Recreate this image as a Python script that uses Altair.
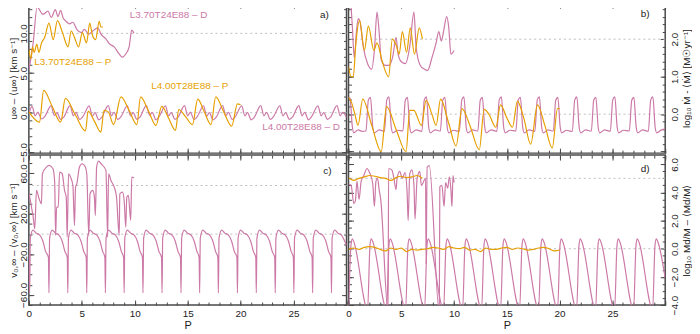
import altair as alt
import pandas as pd

PINK = "#CC79A7"
ORANGE = "#E69F00"
FRAME = "#4a4a4a"
FONT = "Liberation Sans"
TXT = "#222222"

# ---------------- x axis ticks ----------------
X_MAJOR = [0, 5, 10, 15, 20, 25, 30]
X_MINOR = [0, 1, 2, 3, 4, 5, 6, 7, 8, 9, 10, 11, 12, 13, 14, 15, 16, 17, 18, 19, 20,
           21, 22, 23, 24, 25, 26, 27, 28, 29, 30]
X_LABELS = [0, 5, 10, 15, 20, 25]

# ---------------- panel a : u_inf ----------------
A_UP_D_P = [0.0, 0.4, 0.78, 1.34, 1.81, 2.12, 2.5, 2.75, 3.0, 3.22, 3.53, 3.84, 4.15, 4.53, 4.94,
            5.25, 5.65, 6.03, 6.5, 6.81, 7.28, 7.59, 8.06, 8.53, 8.84, 9.15, 9.47, 9.72, 9.93]
A_UP_D_V = [5.35, 8.7, 13.3, 12.4, 12.8, 12.0, 13.0, 12.1, 12.9, 12.0, 11.5, 11.2, 11.4, 10.5, 10.1,
            10.5, 9.9, 10.3, 10.7, 9.9, 9.3, 8.7, 8.3, 7.4, 7.0, 7.4, 8.3, 10.4, 10.0]
A_UP_P_P = [0.0, 0.2, 0.35, 0.5, 0.75, 0.95, 1.2, 1.5, 1.9, 2.3, 2.7, 3.2, 3.7, 4.0, 4.3, 4.7,
            5.05, 5.45, 5.75, 6.0, 6.3, 6.65, 6.8, 7.0]
A_UP_P_V = [8.0, 6.8, 8.3, 7.6, 8.6, 7.6, 8.8, 9.5, 11.3, 9.2, 11.6, 10.0, 8.3, 10.3, 9.5, 8.3,
            10.1, 8.8, 11.3, 9.8, 9.2, 11.5, 10.8, 10.8]
A_LO_P_P = [0.0, 0.4, 1.0, 1.4, 2.2, 3.0, 3.45, 4.4, 5.35, 5.6, 6.2, 6.8, 7.1, 7.5, 8.0, 8.7, 9.5,
            10.2, 10.55, 11.3, 12.0, 12.55, 13.2, 13.85, 14.15, 14.8, 15.45, 15.95, 16.6, 17.2,
            17.65, 18.4, 19.15, 19.7, 20.0]
A_LO_P_V = [0.1, -0.6, -1.2, 2.8, 0.8, -1.2, 1.8, -0.3, -2.3, 0.2, -1.1, -2.45, 0.3, 0.1, -1.5, 2.0,
            0.2, -1.5, 2.0, 0.2, -1.6, 0.8, -0.7, -2.25, 0.4, -0.5, -1.5, 1.7, 0.0, -1.5, 2.0, 0.1,
            -1.7, 1.1, 1.0]
A_LO_D_P = [0.0, 0.3, 0.6, 0.85, 1.2, 1.5, 2.1, 2.4, 2.65, 3.0, 3.3, 3.9, 4.2, 4.45, 4.8, 5.1,
            5.7, 6.0, 6.25, 6.6, 6.9, 7.5, 7.8, 8.05, 8.4, 8.7, 9.3, 9.6, 9.85, 10.2, 10.5,
            11.1, 11.4, 11.65, 12.0, 12.3, 12.9, 13.2, 13.45, 13.8, 14.1, 14.7, 15.0, 15.25, 15.6,
            15.9, 16.5, 16.8, 17.05, 17.4, 17.7, 18.3, 18.6, 18.85, 19.2, 19.5, 20.1, 20.4, 20.65,
            21.0, 21.3, 21.9, 22.2, 22.45, 22.8, 23.1, 23.7, 24.0, 24.25, 24.6, 24.9, 25.5, 25.8,
            26.05, 26.4, 26.7, 27.3, 27.6, 27.85, 28.2, 28.5, 29.1, 29.4, 29.65, 30.0]
A_LO_D_V = [-0.2, 0.8, -0.4, 0.05, -0.8, -0.5, 0.85, -0.35, 0.0, -0.85, -0.55, 0.9, -0.4, 0.05,
            -0.85, -0.5, 0.85, -0.45, 0.0, -0.9, -0.55, 0.9, -0.4, 0.05, -0.85, -0.5, 0.85, -0.4,
            0.0, -0.85, -0.55, 0.9, -0.35, 0.05, -0.9, -0.5, 0.85, -0.4, 0.0, -0.85, -0.55, 0.9,
            -0.4, 0.05, -0.85, -0.5, 0.85, -0.45, 0.0, -0.9, -0.55, 0.9, -0.4, 0.05, -0.85, -0.5,
            0.85, -0.4, 0.0, -0.9, -0.55, 0.9, -0.4, 0.05, -0.85, -0.5, 0.85, -0.4, 0.0, -0.85,
            -0.55, 0.9, -0.4, 0.05, -0.9, -0.5, 0.85, -0.4, 0.0, -0.85, -0.55, 0.9, -0.4, 0.05, -0.6]

# ---------------- panel b : log Mdot ----------------
B_UP_D_P = [0.0, 0.15, 0.35, 0.55, 0.75, 0.92, 1.1, 1.4, 1.8, 2.2, 2.45, 2.7, 2.9, 3.1, 3.5, 3.8,
            4.2, 4.5, 4.7, 5.0, 5.4, 5.8, 6.2, 6.4, 6.8, 7.2, 7.5, 7.9, 8.3, 8.55, 8.8, 9.0, 9.3,
            9.5, 9.7, 10.0]
B_UP_D_V = [3.4, 3.2, 2.4, 1.5, 2.2, 2.55, 2.45, 1.8, 1.35, 1.2, 1.7, 2.72, 2.2, 1.45, 1.3, 1.3,
            1.55, 2.05, 1.6, 1.4, 1.35, 1.8, 2.72, 1.8, 1.3, 1.2, 1.17, 1.5, 1.9, 2.2, 1.95, 2.2,
            2.6, 2.3, 1.6, 1.7]
B_UP_P_P = [0.0, 0.25, 0.45, 0.7, 1.05, 1.5, 1.88, 2.4, 2.7, 3.2, 3.8, 4.15, 4.5, 4.8, 5.1, 5.5,
            5.85, 6.25, 6.7, 7.0]
B_UP_P_V = [1.27, 1.0, 1.0, 1.9, 2.5, 1.7, 2.35, 1.7, 1.9, 1.4, 1.0, 2.0, 1.85, 1.6, 2.2, 1.65,
            2.3, 1.6, 2.3, 2.0]
B_LO_P_P = [0.0, 0.3, 0.6, 0.9, 1.35, 2.2, 3.1, 3.6, 4.5, 5.45, 5.8, 6.2, 6.9, 7.35, 7.9, 8.3,
            8.72, 9.5, 10.19, 10.75, 11.5, 12.39, 12.85, 13.3, 13.96, 14.4, 15.0, 15.53, 16.0,
            16.6, 17.26, 17.9, 18.6, 19.3, 19.8, 20.0]
B_LO_P_V = [0.45, 0.3, 0.0, -0.3, 0.4, -0.3, -1.0, 0.2, -0.4, -1.0, 0.1, 0.1, -0.3, 0.37, 0.0,
            -0.3, 0.4, -0.25, -0.85, 0.15, -0.3, -0.95, 0.13, 0.0, -0.35, 0.25, -0.1, -0.35, 0.35,
            -0.1, -0.8, 0.25, -0.3, -0.9, 0.15, 0.15]
B_LO_D_P = [0.0, 0.15, 0.35, 0.5, 0.9, 1.3,
            1.65, 1.88, 2.08, 2.3, 2.45, 2.9,
            3.4, 3.63, 3.83, 4.05, 4.2, 4.65,
            5.15, 5.38, 5.58, 5.8, 5.95, 6.4,
            6.95, 7.18, 7.38, 7.6, 7.75, 8.2,
            8.7, 8.93, 9.13, 9.35, 9.5, 9.95,
            10.5, 10.73, 10.93, 11.15, 11.3, 11.75,
            12.25, 12.48, 12.68, 12.9, 13.05, 13.5,
            14.05, 14.28, 14.48, 14.7, 14.85, 15.3,
            15.85, 16.08, 16.28, 16.5, 16.65, 17.1,
            17.65, 17.88, 18.08, 18.3, 18.45, 18.9,
            19.4, 19.63, 19.83, 20.05, 20.2, 20.65,
            21.2, 21.43, 21.63, 21.85, 22.0, 22.45,
            23.0, 23.23, 23.43, 23.65, 23.8, 24.25,
            24.8, 25.03, 25.23, 25.45, 25.6, 26.05,
            26.6, 26.83, 27.03, 27.25, 27.4, 27.85,
            28.4, 28.63, 28.83, 29.05, 29.2, 29.65, 30.0]
B_LO_D_V = [0.45, 0.42, -0.3, -0.5, -0.42, -0.46,
            -0.45, 0.38, 0.45, -0.35, -0.5, -0.42,
            -0.46, 0.38, 0.46, -0.35, -0.5, -0.43,
            -0.45, 0.37, 0.45, -0.34, -0.5, -0.42,
            -0.46, 0.38, 0.46, -0.35, -0.5, -0.42,
            -0.45, 0.38, 0.45, -0.35, -0.5, -0.43,
            -0.46, 0.38, 0.46, -0.35, -0.5, -0.42,
            -0.45, 0.37, 0.45, -0.34, -0.5, -0.42,
            -0.46, 0.38, 0.46, -0.35, -0.5, -0.43,
            -0.45, 0.38, 0.45, -0.35, -0.5, -0.42,
            -0.46, 0.38, 0.46, -0.35, -0.5, -0.42,
            -0.45, 0.37, 0.45, -0.34, -0.5, -0.43,
            -0.46, 0.38, 0.46, -0.35, -0.5, -0.42,
            -0.45, 0.38, 0.45, -0.35, -0.5, -0.42,
            -0.46, 0.38, 0.46, -0.35, -0.5, -0.43,
            -0.45, 0.37, 0.45, -0.34, -0.5, -0.42,
            -0.46, 0.38, 0.46, -0.35, -0.5, -0.42, -0.4]

# ---------------- panel c : v_0,inf ----------------
C_UP_D_P = [0.03, 0.25, 0.41, 0.56, 0.72, 0.97, 1.19, 1.28, 1.66, 1.91, 2.28, 2.44, 2.53, 2.62,
            2.78, 2.9, 3.15, 3.37, 3.53, 3.62, 3.75, 3.94, 4.16, 4.31, 4.41, 4.53, 4.78, 5.03,
            5.34, 5.47, 5.66, 5.78, 6.03, 6.19, 6.28, 6.4, 6.59, 6.81, 7.28, 7.44, 7.53, 7.75,
            8.06, 8.28, 8.53, 8.59, 8.84, 9.0, 9.15, 9.25, 9.4, 9.62, 9.72, 9.93]
C_UP_D_V = [39.8, 26.7, 16.8, 5.3, 43.1, 34.9, 29.9, 59.6, 66.2, 67.8, 64.5, 51.3, -1.3, 26.7,
            26.7, 61.2, 59.6, 43.1, 36.5, -2.9, 59.6, 56.3, 48.0, 8.5, 46.4, 49.7, 66.2, 69.5,
            66.2, 59.6, -1.3, 39.8, 43.1, 36.5, 18.4, 66.2, 72.1, 69.5, 62.9, -2.9, 59.6, 53.0,
            46.4, 36.5, -1.3, 39.8, 41.4, 33.2, 6.9, 36.5, 38.2, 13.5, 56.3, 55.6]
C_LO_D_P = [0.0, 0.08, 0.14, 0.38, 0.68, 1.03, 1.33, 1.58,
            1.85, 1.9, 1.96, 2.2, 2.5, 2.85, 3.15, 3.4,
            3.63, 3.68, 3.74, 3.98, 4.28, 4.63, 4.93, 5.18,
            5.42, 5.47, 5.53, 5.77, 6.07, 6.42, 6.72, 6.97,
            7.18, 7.23, 7.29, 7.53, 7.83, 8.18, 8.48, 8.73,
            8.95, 9.0, 9.06, 9.3, 9.6, 9.95, 10.25, 10.5,
            10.73, 10.78, 10.84, 11.08, 11.38, 11.73, 12.03, 12.28,
            12.53, 12.58, 12.64, 12.88, 13.18, 13.53, 13.83, 14.08,
            14.32, 14.37, 14.43, 14.67, 14.97, 15.32, 15.62, 15.87,
            16.08, 16.13, 16.19, 16.43, 16.73, 17.08, 17.38, 17.63,
            17.85, 17.9, 17.96, 18.2, 18.5, 18.85, 19.15, 19.4,
            19.65, 19.7, 19.76, 20.0, 20.3, 20.65, 20.95, 21.2,
            21.43, 21.48, 21.54, 21.78, 22.08, 22.43, 22.73, 22.98,
            23.22, 23.27, 23.33, 23.57, 23.87, 24.22, 24.52, 24.77,
            24.98, 25.03, 25.09, 25.33, 25.63, 25.98, 26.28, 26.53,
            26.75, 26.8, 26.86, 27.1, 27.4, 27.75, 28.05, 28.3,
            28.53, 28.58, 28.64, 28.88, 29.18, 29.53, 29.83, 30.0]
C_LO_D_V = [-20, -58, -4, 4, 1, -1, -7, -17,
            -23, -58, -4, 4, 1, -1, -7, -17,
            -23, -58, -4, 4, 1, -1, -7, -17,
            -23, -58, -4, 4, 1, -1, -7, -17,
            -23, -58, -4, 4, 1, -1, -7, -17,
            -23, -58, -4, 4, 1, -1, -7, -17,
            -23, -58, -4, 4, 1, -1, -7, -17,
            -23, -58, -4, 4, 1, -1, -7, -17,
            -23, -58, -4, 4, 1, -1, -7, -17,
            -23, -58, -4, 4, 1, -1, -7, -17,
            -23, -58, -4, 4, 1, -1, -7, -17,
            -23, -58, -4, 4, 1, -1, -7, -17,
            -23, -58, -4, 4, 1, -1, -7, -17,
            -23, -58, -4, 4, 1, -1, -7, -17,
            -23, -58, -4, 4, 1, -1, -7, -17,
            -23, -58, -4, 4, 1, -1, -7, -17,
            -23, -58, -4, 4, 1, -1, -7, -11]

# ---------------- panel d : log Md/M ----------------
D_UP_D_P = [0.0, 0.25, 0.5, 0.65, 0.8, 1.0, 1.2, 1.45, 1.75, 2.0, 2.3, 2.45, 2.6, 2.75, 2.9, 3.05,
            3.75, 3.8, 4.1, 4.3, 4.5, 4.6, 4.85, 5.1, 5.35, 5.55, 5.65, 5.8, 6.0, 6.2, 6.3, 6.5,
            6.75, 6.9, 7.3, 7.35, 7.45, 7.65, 8.6, 8.65, 8.85, 9.05, 9.2, 9.4, 9.55, 9.7, 9.8,
            9.9, 10.0]
D_UP_D_V = [4.6, 4.5, 3.2, 3.4, 4.8, 3.5, 4.8, 5.2, 5.7, 5.4, 4.6, 3.0, 4.8, 5.0, 4.2, 3.5,
            -4.5, 5.7, 5.6, 5.0, 4.2, 5.0, 5.5, 5.0, 5.4, 4.0, 2.0, 5.3, 5.6, 4.5, 2.1, 5.0,
            5.5, 4.5, 5.0, -1.1, 5.8, 5.9, -4.5, 4.4, 4.5, 3.0, 4.7, 4.3, 5.1, 4.2, 3.0, 5.2, 4.7]
D_UP_P_P = [0.0, 0.5, 1.0, 1.5, 2.0, 2.5, 3.0, 3.5, 4.0, 4.5, 5.0, 5.5, 6.0, 6.5, 7.0]
D_UP_P_V = [5.05, 4.85, 5.0, 5.1, 5.2, 5.15, 5.05, 5.0, 4.85, 5.05, 5.15, 5.05, 5.1, 5.2, 5.0]
D_LO_P_P = [0.0, 0.5, 1.0, 1.5, 2.0, 2.5, 3.0, 3.5, 4.0, 4.5, 5.0, 5.5, 6.0, 6.5, 7.0, 7.5, 8.0,
            8.5, 9.0, 9.5, 10.0, 10.5, 11.0, 11.5, 12.0, 12.5, 13.0, 13.5, 14.0, 14.5, 15.0, 15.5,
            16.0, 16.5, 17.0, 17.5, 18.0, 18.5, 19.0, 19.5, 20.0]
D_LO_P_V = [-0.05, 0.05, -0.05, 0.1, 0.15, 0.1, -0.05, -0.15, 0.05, -0.05, 0.05, -0.2, -0.05,
            -0.1, -0.05, 0.0, 0.1, 0.05, -0.05, 0.15, 0.05, 0.0, 0.1, -0.1, -0.05, -0.2, 0.05,
            -0.05, -0.05, 0.05, 0.1, -0.05, 0.05, 0.0, -0.1, -0.05, 0.05, 0.1, 0.0, -0.15, -0.1]
D_LO_D_P = [0.01, 0.23, 0.35, 0.5, 1.81, 2.03, 2.15, 2.3, 3.61, 3.83, 3.95, 4.1,
            5.41, 5.63, 5.75, 5.9, 7.21, 7.43, 7.55, 7.7, 9.01, 9.23, 9.35, 9.5,
            10.81, 11.03, 11.15, 11.3, 12.61, 12.83, 12.95, 13.1, 14.41, 14.63, 14.75, 14.9,
            16.21, 16.43, 16.55, 16.7, 18.01, 18.23, 18.35, 18.5, 19.81, 20.03, 20.15, 20.3,
            21.61, 21.83, 21.95, 22.1, 23.41, 23.63, 23.75, 23.9, 25.21, 25.43, 25.55, 25.7,
            27.01, 27.23, 27.35, 27.5, 28.81, 29.03, 29.15, 29.3, 30.0]
D_LO_D_V = [-4.3, 0.2, 0.7, 0.5, -4.3, 0.2, 0.7, 0.5, -4.3, 0.2, 0.7, 0.5,
            -4.3, 0.2, 0.7, 0.5, -4.3, 0.2, 0.7, 0.5, -4.3, 0.2, 0.7, 0.5,
            -4.3, 0.2, 0.7, 0.5, -4.3, 0.2, 0.7, 0.5, -4.3, 0.2, 0.7, 0.5,
            -4.3, 0.2, 0.7, 0.5, -4.3, 0.2, 0.7, 0.5, -4.3, 0.2, 0.7, 0.5,
            -4.3, 0.2, 0.7, 0.5, -4.3, 0.2, 0.7, 0.5, -4.3, 0.2, 0.7, 0.5,
            -4.3, 0.2, 0.7, 0.5, -4.3, 0.2, 0.7, 0.5, -2.1]

# ---------------- annotations ----------------
A_TXT = ["L3.70T24E88 – D", "L3.70T24E88 – P", "L4.00T28E88 – P", "L4.00T28E88 – D", "a)"]
A_TXT_P = [13.2, 4.15, 15.2, 25.7, 27.9]
A_TXT_V = [12.35, 6.35, 3.35, -1.75, 12.3]
A_TXT_C = [PINK, ORANGE, ORANGE, PINK, TXT]

W_L, W_R, H = 320, 319, 151


def make_panel(lines, refs, texts, ydom, ymaj, ymin, ylab_vals, side, ytitle, xlabels, w, h):
    xs = alt.Scale(domain=[0, 30], nice=False, zero=False)
    ys = alt.Scale(domain=ydom, nice=False, zero=False)
    layers = []
    ref_df = pd.DataFrame({"v": refs})
    layers.append(alt.Chart(ref_df).mark_rule(color="#bdbdbd", strokeDash=[2, 3], strokeWidth=1)
                  .encode(y=alt.Y("v:Q", scale=ys, axis=None)))
    for p, v, col in lines:
        df = pd.DataFrame({"P": p, "v": v, "i": list(range(len(p)))})
        layers.append(alt.Chart(df).mark_line(color=col, strokeWidth=1.2, clip=True,
                                              interpolate="monotone")
                      .encode(x=alt.X("P:Q", scale=xs, axis=None),
                              y=alt.Y("v:Q", scale=ys, axis=None),
                              order="i:Q"))
    tdf = pd.DataFrame({"t": texts[0], "P": texts[1], "v": texts[2], "c": texts[3]})
    layers.append(alt.Chart(tdf).mark_text(fontSize=10, font=FONT)
                  .encode(x=alt.X("P:Q", scale=xs, axis=None),
                          y=alt.Y("v:Q", scale=ys, axis=None),
                          text="t:N", color=alt.Color("c:N", scale=None)))

    tc = dict(labels=False, domain=False, grid=False, title=None, ticks=True,
              tickColor=FRAME, tickWidth=1)
    x_in_bot_maj = alt.Axis(orient="top", offset=-h, values=X_MAJOR, tickSize=5, **tc)
    x_in_bot_min = alt.Axis(orient="top", offset=-h, values=X_MINOR, tickSize=3, **tc)
    x_in_top_maj = alt.Axis(orient="bottom", offset=-h, values=X_MAJOR, tickSize=5, **tc)
    x_in_top_min = alt.Axis(orient="bottom", offset=-h, values=X_MINOR, tickSize=3, **tc)
    y_in_l_maj = alt.Axis(orient="right", offset=-w, values=ymaj, tickSize=5, **tc)
    y_in_l_min = alt.Axis(orient="right", offset=-w, values=ymin, tickSize=3, **tc)
    y_in_r_maj = alt.Axis(orient="left", offset=-w, values=ymaj, tickSize=5, **tc)
    y_in_r_min = alt.Axis(orient="left", offset=-w, values=ymin, tickSize=3, **tc)

    if xlabels:
        x_lab = alt.Axis(orient="bottom", values=X_LABELS, format="d", ticks=False, tickSize=0,
                         domain=False, grid=False, labelPadding=4, title="P", titlePadding=1,
                         labelFontSize=10, titleFontSize=11, labelColor=TXT, titleColor=TXT,
                         titleFontWeight="normal", labelFlush=False, labelOverlap=False)
    else:
        x_lab = None
    if side == "left":
        y_lab = alt.Axis(orient="left", values=ylab_vals, format=".1f", ticks=False, tickSize=0,
                         domain=False, grid=False, labelAngle=270, labelAlign="center",
                         labelBaseline="bottom", labelPadding=0, title=ytitle, titlePadding=0,
                         labelFontSize=10, titleFontSize=10, labelColor=TXT, titleColor=TXT,
                         titleFontWeight="normal", labelFlush=False, labelOverlap=False)
    else:
        y_lab = alt.Axis(orient="right", values=ylab_vals, format=".1f", ticks=False, tickSize=0,
                         domain=False, grid=False, labelAngle=270, labelAlign="center",
                         labelBaseline="top", labelPadding=4, title=ytitle, titlePadding=2,
                         titleAngle=270, titleBaseline="top", labelFontSize=10, titleFontSize=10,
                         labelColor=TXT, titleColor=TXT, titleFontWeight="normal",
                         labelFlush=False, labelOverlap=False)

    dummy = pd.DataFrame({"P": [0.0], "v": [ydom[0]]})

    def ax_layer(xa, ya):
        return alt.Chart(dummy).mark_point(opacity=0).encode(
            x=alt.X("P:Q", scale=xs, axis=xa), y=alt.Y("v:Q", scale=ys, axis=ya))

    layers.append(ax_layer(x_lab, y_lab))
    layers.append(ax_layer(x_in_bot_maj, y_in_l_maj))
    layers.append(ax_layer(x_in_bot_min, y_in_l_min))
    layers.append(ax_layer(x_in_top_maj, y_in_r_maj))
    layers.append(ax_layer(x_in_top_min, y_in_r_min))

    return alt.layer(*layers).resolve_axis(x="independent", y="independent").properties(
        width=w, height=h)


pa = make_panel(
    [(A_UP_D_P, A_UP_D_V, PINK), (A_UP_P_P, A_UP_P_V, ORANGE),
     (A_LO_D_P, A_LO_D_V, PINK), (A_LO_P_P, A_LO_P_V, ORANGE)],
    [0, 10], (A_TXT, A_TXT_P, A_TXT_V, A_TXT_C),
    [-5.1, 13.8], [-5, 0, 5, 10],
    [-5, -4, -3, -2, -1, 0, 1, 2, 3, 4, 5, 6, 7, 8, 9, 10, 11, 12, 13],
    [-5, 0, 5, 10], "left", "u∞ – ⟨u∞⟩ [km s⁻¹]", False, W_L, H)

pb = make_panel(
    [(B_UP_D_P, B_UP_D_V, PINK), (B_UP_P_P, B_UP_P_V, ORANGE),
     (B_LO_D_P, B_LO_D_V, PINK), (B_LO_P_P, B_LO_P_V, ORANGE)],
    [0, 2], (["b)"], [28.1], [2.66], [TXT]),
    [-1.04, 2.96], [-1, 0, 1, 2],
    [-1.0, -0.8, -0.6, -0.4, -0.2, 0.0, 0.2, 0.4, 0.6, 0.8, 1.0, 1.2, 1.4, 1.6, 1.8, 2.0,
     2.2, 2.4, 2.6, 2.8],
    [0, 1, 2], "right", "log₁₀ Ṁ - ⟨Ṁ⟩ [M☉yr⁻¹]", False, W_R, H)

pc = make_panel(
    [(C_UP_D_P, C_UP_D_V, PINK), (C_LO_D_P, C_LO_D_V, PINK)],
    [0, 48], (["c)"], [28.2], [62.6], [TXT]),
    [-70, 78], [-60, -20, 20, 60],
    [-70, -60, -50, -40, -30, -20, -10, 0, 10, 20, 30, 40, 50, 60, 70],
    [-60, -20, 20, 60], "left", "v₀,∞ – ⟨v₀,∞⟩ [km s⁻¹]", True, W_L, H)

pd_ = make_panel(
    [(D_UP_D_P, D_UP_D_V, PINK), (D_UP_P_P, D_UP_P_V, ORANGE),
     (D_LO_D_P, D_LO_D_V, PINK), (D_LO_P_P, D_LO_P_V, ORANGE)],
    [0, 5], (["d)"], [28.1], [5.67], [TXT]),
    [-4.0, 6.65], [-4, -2, 0, 2, 4, 6],
    [-4.0, -3.5, -3.0, -2.5, -2.0, -1.5, -1.0, -0.5, 0.0, 0.5, 1.0, 1.5, 2.0, 2.5, 3.0, 3.5,
     4.0, 4.5, 5.0, 5.5, 6.0, 6.5],
    [-4, -2, 0, 2, 4, 6], "right", "log₁₀ Md/M – ⟨Md/M⟩", True, W_R, H)

chart = alt.concat(pa, pb, pc, pd_, columns=2, spacing=2, align="each",
                   bounds="flush").properties(
    padding={"left": 0, "top": -8, "right": 0, "bottom": 0}
).configure(font=FONT).configure_view(stroke=FRAME, strokeWidth=1.5).configure_axis(
    labelFont=FONT, titleFont=FONT)

chart.save("out.html", embed_options={"renderer": "svg", "actions": False})
